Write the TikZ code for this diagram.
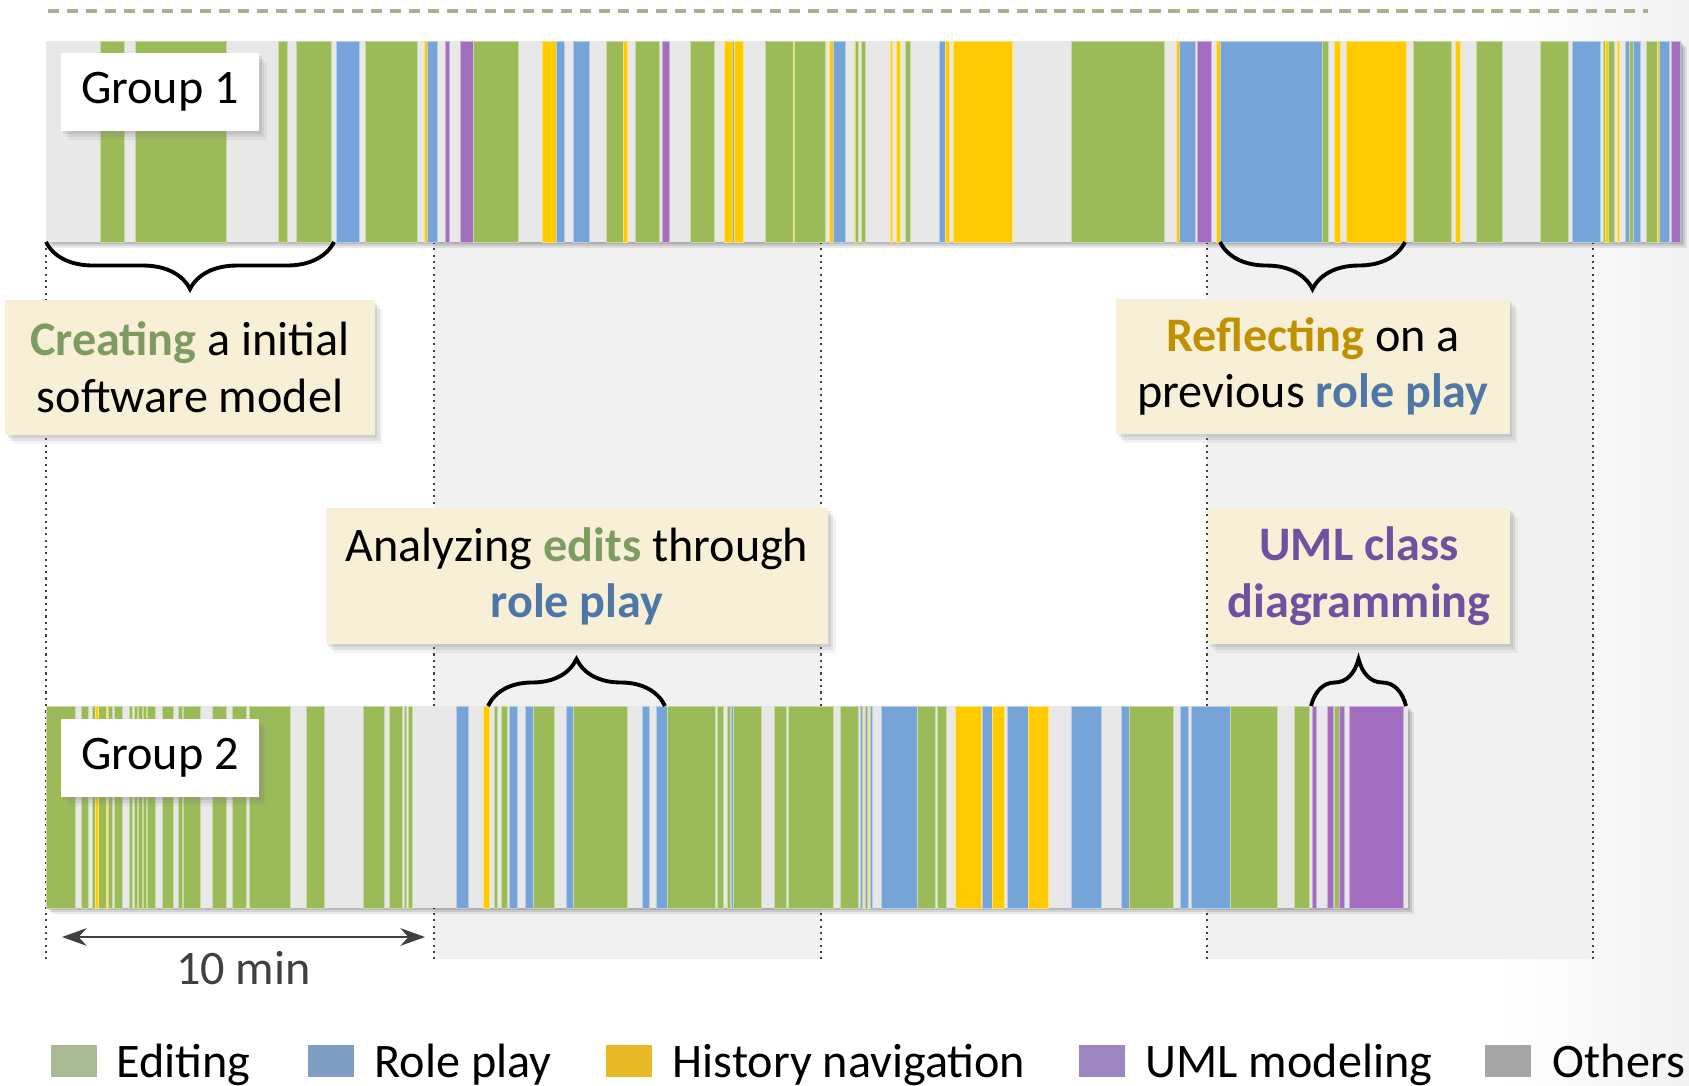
\documentclass[tikz,border=0pt]{standalone}
\usepackage{fontspec}
\setmainfont{Carlito}
\usepackage{xcolor}
\usepackage{tikz}
\usetikzlibrary{positioning, arrows.meta, calc, shadows, decorations.pathreplacing}
\definecolor{edit}{HTML}{9BBB59}
\definecolor{role}{HTML}{77A4D8}
\definecolor{hist}{HTML}{FFCA00}
\definecolor{uml}{HTML}{A46EC0}
\definecolor{other}{HTML}{E8E8E8}
\definecolor{notebg}{HTML}{F8F0D6}
\definecolor{editText}{HTML}{7E9B62}
\definecolor{roleText}{HTML}{4E77A8}
\definecolor{histText}{HTML}{BF9000}
\definecolor{umlText}{HTML}{7050A0}
\definecolor{keyEdit}{HTML}{A9B993}
\definecolor{keyRole}{HTML}{7F9EC4}
\definecolor{keyHist}{HTML}{E6B925}
\definecolor{keyUml}{HTML}{9E87C0}
\definecolor{keyOther}{HTML}{A6A6A6}
\definecolor{slot}{HTML}{F1F1F1}
\definecolor{guide}{HTML}{A3B48E}
\definecolor{ink}{HTML}{404040}
\newcommand{\lblsize}{\fontsize{13.7pt}{16pt}\selectfont}
\tikzset{
  seg/.style={
    fill=#1,
    draw=#1!55!white,
    line width=0.25pt
  },
  soft shadow/.style={
    drop shadow={shadow xshift=2.2pt, shadow yshift=-2.6pt, opacity=0.10},
    drop shadow={shadow xshift=1.4pt, shadow yshift=-1.7pt, opacity=0.14},
    drop shadow={shadow xshift=0.7pt, shadow yshift=-0.9pt, opacity=0.18}
  },
  note box/.style={
    fill=notebg,
    align=center,
    font=\lblsize,
    inner sep=0pt,
    soft shadow
  },
  group tag/.style={
    fill=white,
    font=\lblsize,
    minimum width=1.98cm, minimum height=0.78cm,
    soft shadow
  },
  brace/.style={
    decorate,
    decoration={brace, amplitude=0.47cm},
    line width=1.1pt
  },
  marker/.style={ink, line width=0.6pt, dash pattern=on 0.6pt off 1.2pt},
  scale arrow/.style={
    {Stealth[length=7pt, width=5pt]}-{Stealth[length=7pt, width=5pt]},
    ink, line width=0.6pt
  },
  key/.style={minimum width=0.46cm, minimum height=0.32cm, inner sep=0pt},
  key text/.style={font=\lblsize, anchor=base west, inner sep=0pt}
}

\begin{document}
\begin{tikzpicture}[x=0.01cm, y=-0.01cm]
  \useasboundingbox (0,0) rectangle (1689,1085);
  \shade[left color=white, right color=black!5] (1500,0) rectangle (1689,1085);

  % top rule
  \draw[guide, line width=1pt, dash pattern=on 3.2pt off 2.2pt] (48,11) -- (1648,11);

  % 10 minute slots
  \fill[slot] (434,242) rectangle (821,959);
  \fill[slot] (1207,242) rectangle (1593,959);
  \foreach \x in {46, 434, 821, 1207, 1593}
    \draw[marker] (\x,242) -- (\x,959);

  % Group 1
  \foreach \o/\op in {2/0.12, 4/0.1, 6/0.08}
    \fill[black, opacity=\op] (46+\o,41+\o) rectangle (1681+\o,242+\o);
  \fill[other] (46,41) rectangle (1681,242);
  \foreach \s/\e/\c in {100/124/edit, 135/226/edit, 278/287/edit, 296/331/edit, 336/359/role,
      365/417/edit, 424/427/hist, 427/437/role, 445/449/uml, 460/473/uml, 473/518/edit,
      542/556/hist, 556/564/role, 573/589/role, 606/623/edit, 623/627/hist, 635/659/edit,
      662/669/uml, 690/714/edit, 724/732/hist, 732/734/edit, 734/743/hist, 765/793/edit,
      793/794/hist, 794/825/edit, 829/833/hist, 833/845/role, 854/855/hist, 855/858/edit,
      861/865/edit, 890/892/hist, 896/900/hist, 905/910/edit, 939/945/role, 945/949/hist,
      953/1012/hist, 1071/1164/edit, 1176/1179/hist, 1179/1195/role, 1197/1211/uml,
      1216/1220/hist, 1220/1322/role, 1322/1328/edit, 1334/1340/hist, 1346/1406/hist,
      1413/1451/edit, 1455/1460/hist, 1476/1502/edit, 1540/1568/edit, 1572/1600/role,
      1603/1605/edit, 1605/1608/hist, 1608/1614/edit, 1617/1619/hist, 1625/1629/role,
      1629/1633/edit, 1633/1640/role, 1646/1657/edit, 1657/1659/hist, 1659/1669/role,
      1671/1680/uml}
    \path[seg=\c] (\s,41) rectangle (\e,242);
  \node[group tag] (g1) at (160,92) {Group 1};

  % Group 2
  \foreach \o/\op in {2/0.12, 4/0.1, 6/0.08}
    \fill[black, opacity=\op] (46+\o,706+\o) rectangle (1408+\o,908+\o);
  \fill[other] (46,706) rectangle (1408,908);
  \foreach \s/\e/\c in {46/75/edit, 81/88/edit, 92/107/edit, 95/98/hist, 106/107/hist,
      108/112/edit, 114/122/edit, 129/132/edit, 134/137/edit, 138/142/edit, 143/146/edit,
      147/155/edit, 162/173/edit, 178/182/edit, 183/200/edit, 212/226/edit, 232/246/edit,
      249/290/edit, 306/324/edit, 363/384/edit, 389/402/edit, 404/406/edit, 408/412/edit,
      456/468/role, 483/489/hist, 494/497/edit, 501/507/edit, 509/517/role, 525/533/role,
      533/554/edit, 566/573/role, 573/627/edit, 642/649/role, 656/667/role, 667/715/edit,
      717/723/edit, 727/730/edit, 731/733/role, 733/761/edit, 774/786/edit, 788/833/edit,
      840/858/edit, 860/862/role, 863/864/hist, 865/867/role, 868/869/hist, 870/872/role,
      881/917/role, 917/935/edit, 937/946/edit, 955/981/hist, 982/992/role, 992/1004/hist,
      1007/1028/role, 1028/1048/hist, 1071/1101/role, 1121/1129/role, 1129/1173/edit,
      1180/1188/role, 1191/1230/role, 1230/1277/edit, 1294/1309/edit, 1312/1316/uml,
      1327/1333/uml, 1334/1339/edit, 1339/1344/uml, 1349/1403/uml}
    \path[seg=\c] (\s,706) rectangle (\e,908);
  \node[group tag] (g2) at (160,758) {Group 2};

  % braces
  \coordinate (b1a) at (334,242);  \coordinate (b1b) at (46,242);
  \coordinate (b2a) at (1405,242); \coordinate (b2b) at (1220,242);
  \coordinate (b3a) at (488,706);  \coordinate (b3b) at (665,706);
  \coordinate (b4a) at (1311,706); \coordinate (b4b) at (1406,706);
  \draw[brace] (b1a) -- (b1b);
  \draw[brace] (b2a) -- (b2b);
  \draw[brace] (b3a) -- (b3b);
  \draw[brace] (b4a) -- (b4b);
  \coordinate (tip1) at (190,289);
  \coordinate (tip2) at (1313,289);
  \coordinate (tip3) at (577,659);
  \coordinate (tip4) at (1359,659);

  % notes
  \node[note box, below=0.1cm of tip1, minimum width=3.69cm, minimum height=1.35cm] (create)
    {{\bfseries\color{editText}Creating} a initial\\software model};
  \node[note box, below=0.09cm of tip2, minimum width=3.93cm, minimum height=1.35cm] (reflect)
    {{\bfseries\color{histText}Reflecting} on a\\previous {\bfseries\color{roleText}role play}};
  \node[note box, above=0.14cm of tip3, minimum width=5.02cm, minimum height=1.36cm] (analyze)
    {Analyzing {\bfseries\color{editText}edits} through\\{\bfseries\color{roleText}role play}};
  \node[note box, above=0.14cm of tip4, minimum width=3.02cm, minimum height=1.36cm] (umlnote)
    {\bfseries\color{umlText}UML class\\\bfseries\color{umlText}diagramming};

  % time scale
  \coordinate (s0) at (62,937);
  \coordinate (s1) at (425,937);
  \draw[scale arrow] (s0) -- (s1)
    node[midway, below=0.13cm, inner sep=0pt, text=ink, font=\lblsize] (tenmin) {10 min};

  % legend
  \node[key, fill=keyEdit] (kEdit) at (74,1061) {};
  \node[key text] (tEdit) at (116,1077) {Editing};
  \node[key, fill=keyRole] (kRole) at (331,1061) {};
  \node[key text] (tRole) at (374,1077) {Role play};
  \node[key, fill=keyHist] (kHist) at (629,1061) {};
  \node[key text] (tHist) at (672,1077) {History navigation};
  \node[key, fill=keyUml] (kUml) at (1102,1061) {};
  \node[key text] (tUml) at (1145,1077) {UML modeling};
  \node[key, fill=keyOther] (kOther) at (1508,1061) {};
  \node[key text] (tOther) at (1552,1077) {Others};
\end{tikzpicture}
\end{document}
